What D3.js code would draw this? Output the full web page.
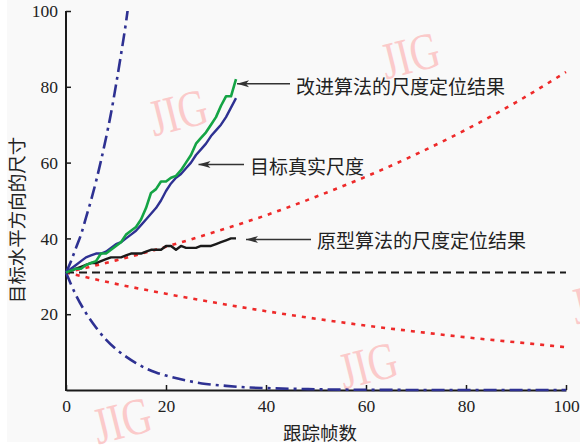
<!DOCTYPE html>
<html>
<head>
<meta charset="utf-8">
<script src="https://cdn.jsdelivr.net/npm/d3@7"></script>
<style>
  html, body { margin: 0; padding: 0; background: #ffffff; }
  svg { display: block; }
</style>
</head>
<body>
<svg id="chart" width="580" height="446"></svg>
<script>
// ---- data -------------------------------------------------------------
const xTicks = [0, 20, 40, 60, 80, 100];
const yTicks = [20, 40, 60, 80, 100];

// scale estimated by the improved algorithm, one value per frame (0..34)
const improvedScale = [31, 31.5, 32, 32, 33, 33.5, 34, 36, 36, 37, 38, 39, 41, 42, 43,
  45, 48, 52, 53, 55, 55, 56, 56.5, 58, 60, 62, 65, 66.5, 68, 70, 72, 75, 77.5, 77.5, 82];

// ground-truth target width, one value per frame (0..34)
const trueScale = [31, 32, 33, 34, 35, 35.5, 36, 36, 36.5, 37.5, 38.5, 39, 40, 41, 42,
  43.5, 45, 46.5, 48, 50, 52.5, 54.5, 56, 57, 58.5, 60, 62, 63.5, 65, 67, 68.5, 70, 72, 74.5, 77];

// scale estimated by the original algorithm, one value per frame (0..34)
const originalScale = [31, 31.5, 32, 32.5, 33, 33.5, 33.5, 34, 34.5, 35, 35, 35, 35.5, 36, 36,
  36, 36.5, 37, 37, 37, 38, 38, 37, 38, 37.5, 37.5, 37.5, 38, 38, 38, 38.5, 39, 39.5, 40, 40];

// fixed initial size
const initialSize = 31;
const initialFrames = [0, 100];

// reference bounds (frame, value)
const fastGrowFrames = [0, 1, 2, 3, 4, 5, 6, 7, 8, 9, 10, 11, 12, 13];
const fastGrowValues = [31, 34, 37.5, 41, 45.5, 50, 55, 60.5, 66.5, 73, 80.5, 88.5, 97, 107];
const fastShrinkFrames = [0, 2, 4, 6, 8, 10, 12, 14, 16, 18, 20, 24, 28, 32, 36, 40, 50, 60, 80, 100];
const fastShrinkValues = [31, 25, 20.3, 16.5, 13.3, 10.8, 8.8, 7.1, 5.7, 4.6, 3.8, 2.5, 1.6, 1.1, 0.7, 0.5, 0.2, 0.05, 0, 0];
const slowFrames = [0, 10, 20, 30, 40, 50, 60, 70, 80, 90, 100];
const slowGrowValues = [31, 34.2, 37.8, 41.8, 46.1, 51, 56.3, 62.2, 68.7, 75.9, 83.9];
const slowShrinkValues = [31, 28, 25.4, 23, 20.8, 18.8, 17, 15.4, 13.9, 12.6, 11.3];

// annotations: label, arrow tip (frame, value), text position
const annotations = [
  { text: "改进算法的尺度定位结果", tip: [34.2, 80.8], tail: 290, tx: 296, ty: 85 },
  { text: "目标真实尺度", tip: [26.5, 59.5], tail: 244, tx: 250, ty: 165 },
  { text: "原型算法的尺度定位结果", tip: [36, 39.7], tail: 311, tx: 317, ty: 239.5 }
];

const watermarks = [
  { x: 178, y: 112 }, { x: 410, y: 55 }, { x: 368, y: 365 }, { x: 122, y: 420 }, { x: 600, y: 300 }
];

const SERIF = "'Liberation Serif', 'Times New Roman', 'DejaVu Serif', serif";
const CJK = "'Noto Sans CJK SC', sans-serif";

// ---- layout -----------------------------------------------------------
const svg = d3.select("#chart");
const x = d3.scaleLinear().domain([0, 100]).range([66, 566]);
const y = d3.scaleLinear().domain([0, 100]).range([390, 11]);

svg.append("rect").attr("x", 7).attr("y", 0).attr("width", 573).attr("height", 442)
  .attr("fill", "#f9f9f9");

// watermark
svg.append("g").selectAll("text").data(watermarks).join("text")
  .attr("transform", d => `translate(${d.x},${d.y}) rotate(-14) scale(0.78,1)`)
  .attr("text-anchor", "middle")
  .attr("dominant-baseline", "central")
  .style("font-family", SERIF)
  .style("font-size", "52px")
  .attr("fill", "#fbcaca")
  .text("JIG");

// ---- axes -------------------------------------------------------------
const gx = svg.append("g").attr("transform", `translate(0,${y(0)})`)
  .call(d3.axisBottom(x).tickValues(xTicks).tickSizeInner(-5).tickSizeOuter(0).tickPadding(10));
const gy = svg.append("g").attr("transform", `translate(${x(0)},0)`)
  .call(d3.axisLeft(y).tickValues(yTicks).tickSizeInner(-5).tickSizeOuter(0).tickPadding(8));

[gx, gy].forEach(g => {
  g.attr("font-family", SERIF).attr("font-size", 17.5);
  g.select(".domain").attr("stroke", "#1a1a1a").attr("stroke-width", 2);
  g.selectAll(".tick line").attr("stroke", "#1a1a1a").attr("stroke-width", 1.5);
  g.selectAll(".tick text")
    .style("font-family", SERIF)
    .style("font-size", "17.5px")
    .attr("fill", "#222");
});
// extend vertical axis line to the frame origin
gy.select(".domain").attr("d", `M0,${y(100)}V${y(0) + 1}`);

svg.append("text")
  .attr("x", 320).attr("y", 440)
  .attr("text-anchor", "middle")
  .style("font-family", CJK)
  .style("font-size", "18.5px").attr("fill", "#222")
  .text("跟踪帧数");

svg.append("text")
  .attr("transform", "translate(23.5,220) rotate(-90)")
  .attr("text-anchor", "middle")
  .style("font-family", CJK)
  .style("font-size", "18.5px").attr("fill", "#222")
  .text("目标水平方向的尺寸");

// ---- curves -----------------------------------------------------------
svg.append("clipPath").attr("id", "plot-clip")
  .append("rect").attr("x", 60).attr("y", y(100)).attr("width", 512).attr("height", y(0) - y(100) + 4);

const plot = svg.append("g").attr("clip-path", "url(#plot-clip)");

const smoothLine = d3.line().x(d => x(d[0])).y(d => y(d[1])).curve(d3.curveMonotoneX);
const straightLine = d3.line().x(d => x(d[0])).y(d => y(d[1]));

const pairs = (fs, vs) => fs.map((f, i) => [f, vs[i]]);
const indexed = vs => vs.map((v, i) => [i, v]);

const RED = "#ee2a2a", NAVY = "#2e3192", GREEN = "#14a445", BLACK = "#1a1a1a";

plot.append("path").datum(pairs(slowFrames, slowGrowValues))
  .attr("d", smoothLine).attr("fill", "none").attr("stroke", RED)
  .attr("stroke-width", 2.6).attr("stroke-dasharray", "4,6");
plot.append("path").datum(pairs(slowFrames, slowShrinkValues))
  .attr("d", smoothLine).attr("fill", "none").attr("stroke", RED)
  .attr("stroke-width", 2.6).attr("stroke-dasharray", "4,6");

plot.append("path").datum(initialFrames.map(f => [f, initialSize]))
  .attr("d", straightLine).attr("fill", "none").attr("stroke", BLACK)
  .attr("stroke-width", 1.8).attr("stroke-dasharray", "8,5");

plot.append("path").datum(pairs(fastGrowFrames, fastGrowValues))
  .attr("d", smoothLine).attr("fill", "none").attr("stroke", NAVY)
  .attr("stroke-width", 2.6).attr("stroke-dasharray", "13,5,3,5");
plot.append("path").datum(pairs(fastShrinkFrames, fastShrinkValues))
  .attr("d", smoothLine).attr("fill", "none").attr("stroke", NAVY)
  .attr("stroke-width", 2.6).attr("stroke-dasharray", "13,5,3,5");

plot.append("path").datum(indexed(originalScale))
  .attr("d", straightLine).attr("fill", "none").attr("stroke", BLACK).attr("stroke-width", 2.4)
  .attr("stroke-linejoin", "round");
plot.append("path").datum(indexed(trueScale))
  .attr("d", straightLine).attr("fill", "none").attr("stroke", NAVY).attr("stroke-width", 2.4)
  .attr("stroke-linejoin", "round");
plot.append("path").datum(indexed(improvedScale))
  .attr("d", straightLine).attr("fill", "none").attr("stroke", GREEN).attr("stroke-width", 2.6)
  .attr("stroke-linejoin", "round");

// ---- annotations ------------------------------------------------------
svg.append("defs").append("marker")
  .attr("id", "arrow").attr("viewBox", "0 0 12 8").attr("refX", 12).attr("refY", 4)
  .attr("markerWidth", 12).attr("markerHeight", 8).attr("markerUnits", "userSpaceOnUse")
  .attr("orient", "auto")
  .append("path").attr("d", "M0,0.5L12,4L0,7.5L3,4Z").attr("fill", "#333");

const ann = svg.append("g");
annotations.forEach(a => {
  const ty = y(a.tip[1]);
  ann.append("line")
    .attr("x1", a.tail).attr("y1", ty).attr("x2", x(a.tip[0])).attr("y2", ty)
    .attr("stroke", "#333").attr("stroke-width", 1.6).attr("marker-end", "url(#arrow)");
  ann.append("text")
    .attr("x", a.tx).attr("y", a.ty)
    .attr("dominant-baseline", "central")
    .style("font-family", CJK)
    .style("font-size", "19px").attr("fill", "#222")
    .text(a.text);
});
</script>
</body>
</html>
